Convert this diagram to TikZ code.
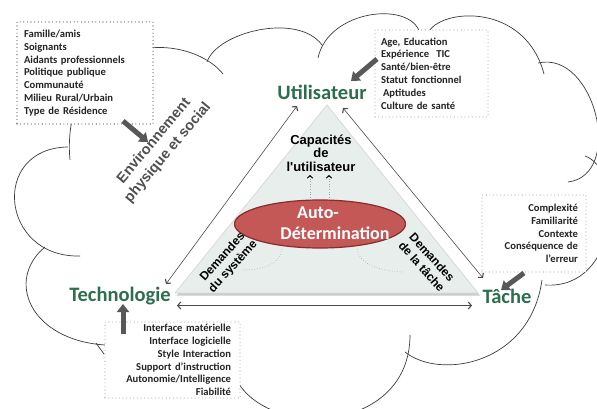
\documentclass[tikz,border=0pt]{standalone}
\usepackage{fontspec}
\setmainfont{Carlito}
\newfontfamily\arialfont{Liberation Sans}
\usetikzlibrary{arrows.meta,shapes.geometric}
\definecolor{lblgreen}{RGB}{45,110,78}
\definecolor{boxtext}{RGB}{35,35,35}
\definecolor{trifill}{RGB}{231,238,235}
\definecolor{trishadow}{RGB}{200,204,202}
\definecolor{ellfill}{RGB}{196,88,86}
\definecolor{elldraw}{RGB}{135,45,43}
\definecolor{arrgray}{RGB}{88,88,88}
\definecolor{cloudline}{RGB}{60,60,60}
\definecolor{envgray}{RGB}{80,80,80}
\begin{document}
\begin{tikzpicture}[x=1pt,y=-1pt,
  cloudedge/.style={draw=cloudline,line width=0.7pt},
  infobox/.style={draw=gray!65,line width=1.1pt,dash pattern=on 0pt off 3.6pt,line cap=round,fill=white,inner xsep=0pt,inner ysep=0pt,font=\fontsize{10.6}{12.8}\selectfont\bfseries,text=boxtext},
  mainlabel/.style={text=lblgreen,font=\fontsize{20.5}{24}\selectfont\bfseries,inner sep=0pt,anchor=base},
  link/.style={draw=black!70,line width=0.6pt,{Straight Barb[length=3pt,width=7pt,line width=1.1pt]}-{Straight Barb[length=3pt,width=7pt,line width=1.1pt]}},
  blockarrow/.style={draw=arrgray,line width=5pt,-{Triangle[width=12pt,length=8pt]}},
  capup/.style={draw=gray!70,dotted,line width=0.6pt,-{Straight Barb[length=2.5pt,width=5.5pt,line width=1pt,color=black]}},
  dotcurve/.style={draw=gray!70,dotted,line width=0.6pt},
  innertext/.style={align=center,inner sep=0pt},
  elltext/.style={text=white,font=\fontsize{18}{20}\selectfont\bfseries,inner sep=0pt}
]
\useasboundingbox (0,0) rectangle (597,409);
\fill[white] (0,0) rectangle (597,409);
\begin{scope}
\clip (0,0) rectangle (597,409);
% cloud lobes
\draw[cloudedge] (70,160) .. controls (66,120) and (80,70) .. (120,62);
\draw[cloudedge] (120,62) .. controls (140,38) and (200,45) .. (223,74);
\draw[cloudedge] (207,62) .. controls (217,32) and (298,12) .. (322,45);
\draw[cloudedge] (318,58) .. controls (328,10) and (410,0) .. (420,33);
\draw[cloudedge] (428,33) .. controls (440,8) and (525,2) .. (544,74);
\draw[cloudedge] (538,63) .. controls (595,50) and (625,175) .. (568,182);
\draw[cloudedge] (585,156) .. controls (625,170) and (620,290) .. (545,285);
\draw[cloudedge] (542,280) .. controls (530,365) and (440,380) .. (405,352);
\draw[cloudedge] (410,335) .. controls (410,440) and (250,440) .. (232,368);
\draw[cloudedge] (105,345) .. controls (30,340) and (5,280) .. (45,247);
\draw[cloudedge] (96,343) -- (104,354);
\draw[cloudedge] (80,256) .. controls (0,258) and (-10,148) .. (68,147);
\end{scope}
% triangle
\fill[trishadow] (328.5,107.5) -- (480,295.5) -- (176.5,295.5) -- cycle;
\fill[trifill] (327,105) -- (478,293) -- (175,293) -- cycle;
\draw[gray!30,line width=0.8pt] (327,105) -- (478,293) -- (175,293) -- cycle;
% main labels
\node[mainlabel] (util) at (322,100) {Utilisateur};
\node[mainlabel] (tech) at (120,301) {Technologie};
\node[mainlabel] (tache) at (507,303) {Tâche};
% connector end points
\coordinate (techA) at (166,284);
\coordinate (utilA) at (297,106);
\coordinate (utilB) at (343,108);
\coordinate (tacheB) at (483,278);
\coordinate (techC) at (177,305.5);
\coordinate (tacheC) at (472,305.5);
\draw[link] (techA) -- (utilA);
\draw[link] (utilB) -- (tacheB);
\draw[link] (techC) -- (tacheC);
% inner content
\node[innertext,text=black,font=\arialfont\bfseries\fontsize{13}{13.5}\selectfont] (capa) at (321,153) {Capacités\\de\\l'utilisateur};
\node[ellipse,draw=elldraw,fill=ellfill,line width=1.2pt,minimum width=171pt,minimum height=48pt,inner sep=0pt] (ell) at (320,224) {};
\node[elltext] (auto) at (318,213) {Auto-};
\node[elltext] (deter) at (335,233) {Détermination};
\coordinate (capLb) at (310,200);
\coordinate (capLt) at (310,175);
\coordinate (capRb) at (329,200);
\coordinate (capRt) at (329,175);
\draw[capup] (capLb) -- (capLt);
\draw[capup] (capRb) -- (capRt);
\node[innertext,text=black,rotate=48,font=\arialfont\bfseries\fontsize{12}{14}\selectfont] (demsys) at (228,262) {Demandes\\du système};
\node[innertext,text=black,rotate=-48,font=\arialfont\bfseries\fontsize{12}{14}\selectfont] (demtache) at (427,262) {Demandes\\de la tâche};
\coordinate (dcl) at (282,249);
\coordinate (dcle) at (242,270);
\coordinate (dcr) at (357,249);
\coordinate (dcre) at (403,272);
\draw[dotcurve] (dcl) .. controls (280,265) and (262,270) .. (dcle);
\draw[dotcurve] (dcr) .. controls (360,265) and (380,271) .. (dcre);
% environment label
\node[innertext,text=envgray,rotate=50,font=\arialfont\bfseries\fontsize{14.5}{18}\selectfont] (env) at (161,147) {Environnement\\physique et social};
% info boxes
\node[infobox,draw=black!80,minimum width=136pt,minimum height=102pt,text width=122pt,align=left] (envbox) at (85,73) {Famille/amis\\Soignants\\Aidants professionnels\\Politique publique\\Communauté\\Milieu Rural/Urbain\\Type de Résidence};
\node[infobox,minimum width=113pt,minimum height=87pt,text width=101pt,align=left] (userbox) at (431.5,73.5) {Age, Education\\Expérience\ \ TIC\\Santé/bien-être\\Statut fonctionnel\\\hspace{2pt}Aptitudes\\Culture de santé};
\node[infobox,minimum width=104pt,minimum height=77pt,text width=88pt,align=right] (taskbox) at (534,233.5) {Complexité\\Familiarité\\Contexte\\Conséquence de\\l'erreur};
\node[infobox,minimum width=135pt,minimum height=76pt,text width=117pt,align=right] (techbox) at (172.5,360) {Interface matérielle\\Interface logicielle\\Style Interaction\\Support d'instruction\\Autonomie/Intelligence\\Fiabilité};
% block arrows
\coordinate (a1s) at (123,121);
\coordinate (a1e) at (148,142);
\coordinate (a2s) at (377,59);
\coordinate (a2e) at (351,81);
\coordinate (a3s) at (524,273);
\coordinate (a3e) at (501,290);
\coordinate (a4s) at (123,334);
\coordinate (a4e) at (123,304);
\draw[blockarrow] (a1s) -- (a1e);
\draw[blockarrow] (a2s) -- (a2e);
\draw[blockarrow] (a3s) -- (a3e);
\draw[blockarrow] (a4s) -- (a4e);
\end{tikzpicture}
\end{document}
